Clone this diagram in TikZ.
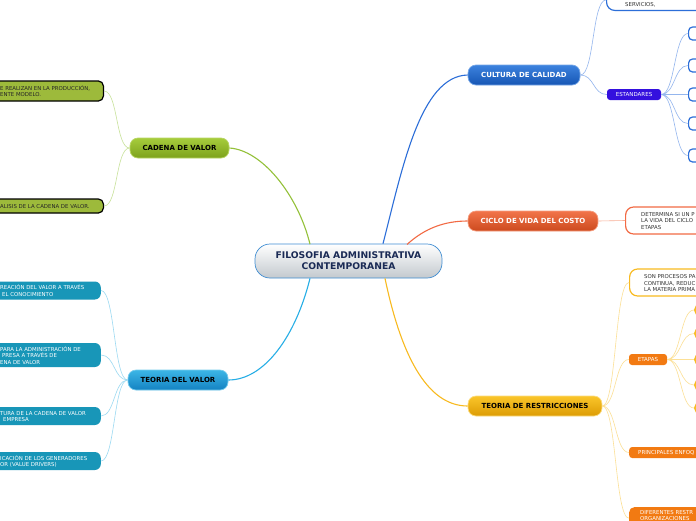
\documentclass[tikz,border=0pt]{standalone}
\usepackage{fontspec}
\setmainfont{DejaVu Sans}
\usetikzlibrary{calc}
\definecolor{gTop}{HTML}{A6CC3C}\definecolor{gBot}{HTML}{7DA21C}\definecolor{gLine}{HTML}{94C13A}
\definecolor{gLight}{HTML}{C8E29A}\definecolor{gLeaf}{HTML}{9DBA3B}
\definecolor{tTop}{HTML}{3CB6E6}\definecolor{tBot}{HTML}{1482C2}\definecolor{tLine}{HTML}{26AEE6}
\definecolor{tLight}{HTML}{9CDAF2}\definecolor{tLeaf}{HTML}{1896B8}
\definecolor{cTop}{HTML}{3C82DE}\definecolor{cBot}{HTML}{1656B4}\definecolor{cLine}{HTML}{2C6ED8}
\definecolor{cLight}{HTML}{94B6EE}\definecolor{estC}{HTML}{3410DE}
\definecolor{oTop}{HTML}{F2744A}\definecolor{oBot}{HTML}{CC4A1E}\definecolor{oLine}{HTML}{F26A44}
\definecolor{oLight}{HTML}{F8AE96}
\definecolor{yTop}{HTML}{FAC52A}\definecolor{yBot}{HTML}{DC9C04}\definecolor{yLine}{HTML}{F8BA20}
\definecolor{yLight}{HTML}{FCE096}\definecolor{orgC}{HTML}{F27A12}
\definecolor{rootBot}{HTML}{C3C9CE}\definecolor{rootBd}{HTML}{3F8DD2}\definecolor{rootTx}{HTML}{1A2A55}
\tikzset{
  mainbox/.style={rounded corners=8pt, minimum height=20pt, inner sep=0pt, line width=0.7pt,
    font=\fontsize{7}{8}\selectfont\bfseries},
  leaftext/.style={inner sep=0pt, align=left, font=\fontsize{5.4}{6.5}\selectfont},
  smallbox/.style={rounded corners=3pt, inner sep=0pt, font=\fontsize{5.5}{6}\selectfont, text=white},
  thin/.style={line width=0.6pt},
  thick/.style={line width=1.1pt}
}
\begin{document}
\begin{tikzpicture}[x=1pt,y=-1pt]
\useasboundingbox (0,0) rectangle (696,520);
\clip (0,0) rectangle (696,520);
\fill[white] (0,0) rectangle (696,520);

% ---------- main nodes ----------
\node[mainbox, rounded corners=15pt, draw=rootBd, top color=white, bottom color=rootBot, text=rootTx,
  minimum width=187pt, minimum height=34pt, align=center, font=\fontsize{9.2}{11}\selectfont\bfseries]
  (root) at (348.5,261) {FILOSOFIA ADMINISTRATIVA\\CONTEMPORANEA};
\node[mainbox, draw=gTop!80!white, top color=gTop, bottom color=gBot, text=black, minimum width=99pt]
  (cadena) at (179.5,148) {CADENA DE VALOR};
\node[mainbox, draw=tTop!70!white, top color=tTop, bottom color=tBot, text=black, minimum width=100pt]
  (tvalor) at (178,380) {TEORIA DEL VALOR};
\node[mainbox, draw=cTop!70!white, top color=cTop, bottom color=cBot, text=white, minimum width=112pt]
  (calidad) at (524,75) {CULTURA DE CALIDAD};
\node[mainbox, draw=oTop!70!white, top color=oTop, bottom color=oBot, text=white, minimum width=130pt]
  (ciclo) at (533,221) {CICLO DE VIDA DEL COSTO};
\node[mainbox, draw=yTop!60!white, top color=yTop, bottom color=yBot, text=black, minimum width=134pt]
  (restr) at (535,406) {TEORIA DE RESTRICCIONES};

% ---------- main connectors ----------
\coordinate (rG) at ($(root.north)+(-38.5,0.5)$);
\coordinate (rC) at ($(root.north)+(34.5,0)$);
\coordinate (rO) at ($(root.north)+(58.5,0.8)$);
\coordinate (rY) at ($(root.south)+(36.5,0)$);
\coordinate (rT) at ($(root.south)+(-38.5,0)$);
\draw[gLine, thick] (rG) .. controls (298,195) and (262,150) .. (cadena.east);
\draw[cLine, thick] (rC) .. controls (402,170) and (420,76) .. (calidad.west);
\draw[oLine, thick] (rO) .. controls (425,228) and (445,221) .. (ciclo.west);
\draw[yLine, thick] (rY) .. controls (400,350) and (425,406) .. (restr.west);
\draw[tLine, thick] (rT) .. controls (296,335) and (265,380) .. (tvalor.east);

% ---------- CADENA DE VALOR leaves ----------
\node[draw=black, line width=1.2pt, fill=gLeaf, rounded corners=5pt, minimum width=130pt, minimum height=20pt,
  anchor=east] (g1) at (104,91) {};
\node[leaftext, anchor=west, text=black!85] (g1t) at (0,91) {E REALIZAN EN LA PRODUCCIÓN,\\ENTE MODELO.};
\node[draw=black, line width=1.2pt, fill=gLeaf, rounded corners=5pt, minimum width=130pt, minimum height=14pt,
  anchor=east] (g2) at (104,206) {};
\node[leaftext, anchor=west, text=black!85] (g2t) at (0,206.5) {ALISIS DE LA CADENA DE VALOR.};
\draw[gLight, thin] (cadena.west) .. controls +(-14,0) and +(14,0) .. (g1.east);
\draw[gLight, thin] (cadena.west) .. controls +(-14,0) and +(14,0) .. (g2.east);

% ---------- TEORIA DEL VALOR leaves ----------
\node[fill=tLeaf, rounded corners=6pt, minimum width=130pt, minimum height=18pt, anchor=east] (t1) at (101,290.5) {};
\node[leaftext, anchor=west, text=white] (t1t) at (0,290.5) {REACIÓN DEL VALOR A TRAVÉS\\\hspace*{2pt}EL CONOCIMIENTO};
\node[fill=tLeaf, rounded corners=6pt, minimum width=130pt, minimum height=24pt, anchor=east] (t2) at (101,355) {};
\node[leaftext, anchor=west, text=white] (t2t) at (0,355.5) {PARA LA ADMINISTRACIÓN DE\\\hspace*{2pt}PRESA A TRAVÉS DE\\ENA DE VALOR};
\node[fill=tLeaf, rounded corners=6pt, minimum width=130pt, minimum height=18pt, anchor=east] (t3) at (101,416) {};
\node[leaftext, anchor=west, text=white] (t3t) at (0,416.5) {TURA DE LA CADENA DE VALOR\\\hspace*{3pt}EMPRESA};
\node[fill=tLeaf, rounded corners=6pt, minimum width=130pt, minimum height=18pt, anchor=east] (t4) at (101,461) {};
\node[leaftext, anchor=west, text=white] (t4t) at (0,461.5) {ICACIÓN DE LOS GENERADORES\\OR (VALUE DRIVERS)};
\foreach \n in {t1,t2,t3,t4}
  \draw[tLight, thin] (tvalor.west) .. controls +(-14,0) and +(14,0) .. (\n.east);

% ---------- CULTURA DE CALIDAD leaves ----------
\node[draw=cLine, line width=1.2pt, fill=white, rounded corners=8pt, minimum width=130pt, minimum height=30pt,
  anchor=south west] (q1) at (606,11) {};
\node[leaftext, anchor=west, text=black!80] (q1t) at (625,5) {SERVICIOS,};
\node[smallbox, fill=estC, minimum width=54pt, minimum height=11pt] (est) at (634,94.5) {ESTANDARES};
\draw[cLight, thin] (calidad.east) .. controls +(14,0) and +(-14,0) .. (q1.west |- 0,0);
\draw[cLight, thin] (calidad.east) .. controls +(14,0) and +(-14,0) .. (est.west);
\foreach \n/\y in {b1/33.5,b2/65.5,b3/94.5,b4/123.5,b5/155.5}{
  \node[draw=cLine, line width=1.2pt, fill=white, rounded corners=4pt, minimum width=30pt, minimum height=13pt,
    anchor=west] (\n) at (688,\y) {};
  \draw[cLight, thin] (est.east) .. controls +(14,0) and +(-14,0) .. (\n.west);
}

% ---------- CICLO DE VIDA DEL COSTO leaf ----------
\node[draw=oLine, line width=1.2pt, fill=white, rounded corners=8pt, minimum width=120pt, minimum height=27pt,
  anchor=west] (o1) at (625,220.5) {};
\node[leaftext, anchor=west, text=black!80] (o1t) at (641,221) {DETERMINA SI UN P\\LA VIDA DEL CICLO\\ETAPAS};
\draw[oLight, thin] (ciclo.east) -- (o1.west);

% ---------- TEORIA DE RESTRICCIONES leaves ----------
\node[draw=yLine, line width=1.2pt, fill=white, rounded corners=8pt, minimum width=120pt, minimum height=27pt,
  anchor=west] (y1) at (629,282.5) {};
\node[leaftext, anchor=west, text=black!80] (y1t) at (644,283) {SON PROCESOS PA\\CONTINUA, REDUC\\LA MATERIA PRIMA};
\node[smallbox, fill=orgC, minimum width=38pt, minimum height=11pt] (etapas) at (648,359.5) {ETAPAS};
\node[smallbox, fill=orgC, minimum width=120pt, minimum height=11pt, anchor=west] (y3) at (629,452.5) {};
\node[smallbox, anchor=west] (y3t) at (638,452.5) {PRINCIPALES ENFOQ};
\node[smallbox, rounded corners=5pt, fill=orgC, minimum width=120pt, minimum height=22pt, anchor=north west] (y4) at (629,507) {};
\node[leaftext, anchor=north west, text=white, font=\fontsize{5.4}{5.8}\selectfont] (y4t) at (640,510.5) {DIFERENTES RESTR\\ORGANIZACIONES};
\foreach \n in {y1,etapas,y3,y4}
  \draw[yLight, thin] (restr.east) .. controls +(14,0) and +(-14,0) .. (\n.west);
\foreach \n/\y in {e1/310,e2/333.5,e3/359.5,e4/385,e5/408}{
  \node[draw=yLine, line width=1.2pt, fill=yTop, circle, minimum size=11pt, inner sep=0pt,
    anchor=west] (\n) at (694,\y) {};
  \draw[yLight, thin] (etapas.east) .. controls +(14,0) and +(-14,0) .. (\n.west);
}
\end{tikzpicture}
\end{document}
